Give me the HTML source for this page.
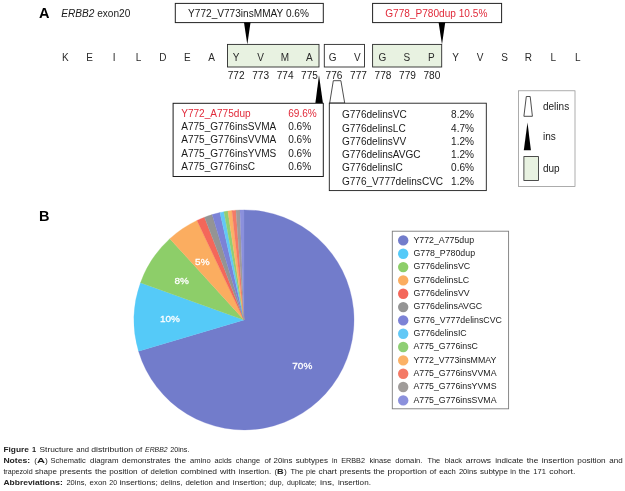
<!DOCTYPE html>
<html><head><meta charset="utf-8"><title>Figure 1</title>
<style>html,body{margin:0;padding:0;background:#fff}svg{display:block}text{font-family:"Liberation Sans",Arial,sans-serif}</style></head><body>
<svg width="625" height="491" viewBox="0 0 625 491" fill="#1a1a1a">
<rect width="625" height="491" fill="#fff"/>
<text x="39" y="17.6" font-size="14.5" font-weight="bold" fill="#000">A</text>
<text x="61.3" y="16.8" font-size="10.1"><tspan font-style="italic">ERBB2</tspan> exon20</text>
<text x="38.9" y="221" font-size="14.5" font-weight="bold" fill="#000">B</text>
<rect x="175.3" y="3.4" width="148" height="19.2" fill="#fff" stroke="#222" stroke-width="1"/>
<text x="248.5" y="17.2" font-size="10.1" text-anchor="middle">Y772_V773insMMAY 0.6%</text>
<rect x="372.6" y="3.4" width="129" height="19.2" fill="#fff" stroke="#222" stroke-width="1"/>
<text x="436.3" y="17.2" font-size="10.1" text-anchor="middle" fill="#e12a3a">G778_P780dup 10.5%</text>
<polygon points="244.0,22.6 250.5,22.6 247.3,44.4" fill="#000"/>
<polygon points="438.6,22.6 445.2,22.6 442,44.4" fill="#000"/>
<rect x="227.5" y="44.4" width="91.5" height="22.6" fill="#e8f2e1" stroke="#2a2a2a" stroke-width="0.9"/>
<rect x="324.3" y="44.4" width="40.2" height="22.6" fill="#fff" stroke="#2a2a2a" stroke-width="0.9"/>
<rect x="372.6" y="44.4" width="69.1" height="22.6" fill="#e8f2e1" stroke="#2a2a2a" stroke-width="0.9"/>
<text x="65.3" y="60.5" font-size="10" text-anchor="middle" fill="#2a2a2a">K</text>
<text x="89.7" y="60.5" font-size="10" text-anchor="middle" fill="#2a2a2a">E</text>
<text x="114.1" y="60.5" font-size="10" text-anchor="middle" fill="#2a2a2a">I</text>
<text x="138.5" y="60.5" font-size="10" text-anchor="middle" fill="#2a2a2a">L</text>
<text x="162.9" y="60.5" font-size="10" text-anchor="middle" fill="#2a2a2a">D</text>
<text x="187.3" y="60.5" font-size="10" text-anchor="middle" fill="#2a2a2a">E</text>
<text x="211.7" y="60.5" font-size="10" text-anchor="middle" fill="#2a2a2a">A</text>
<text x="236.1" y="60.5" font-size="10" text-anchor="middle" fill="#2a2a2a">Y</text>
<text x="260.5" y="60.5" font-size="10" text-anchor="middle" fill="#2a2a2a">V</text>
<text x="284.9" y="60.5" font-size="10" text-anchor="middle" fill="#2a2a2a">M</text>
<text x="309.3" y="60.5" font-size="10" text-anchor="middle" fill="#2a2a2a">A</text>
<text x="332.7" y="60.5" font-size="10" text-anchor="middle" fill="#2a2a2a">G</text>
<text x="357.3" y="60.5" font-size="10" text-anchor="middle" fill="#2a2a2a">V</text>
<text x="382.5" y="60.5" font-size="10" text-anchor="middle" fill="#2a2a2a">G</text>
<text x="406.9" y="60.5" font-size="10" text-anchor="middle" fill="#2a2a2a">S</text>
<text x="431.3" y="60.5" font-size="10" text-anchor="middle" fill="#2a2a2a">P</text>
<text x="455.7" y="60.5" font-size="10" text-anchor="middle" fill="#2a2a2a">Y</text>
<text x="480.1" y="60.5" font-size="10" text-anchor="middle" fill="#2a2a2a">V</text>
<text x="504.5" y="60.5" font-size="10" text-anchor="middle" fill="#2a2a2a">S</text>
<text x="528.3" y="60.5" font-size="10" text-anchor="middle" fill="#2a2a2a">R</text>
<text x="553.3" y="60.5" font-size="10" text-anchor="middle" fill="#2a2a2a">L</text>
<text x="577.7" y="60.5" font-size="10" text-anchor="middle" fill="#2a2a2a">L</text>
<text x="236.1" y="79.2" font-size="10.1" text-anchor="middle">772</text>
<text x="260.6" y="79.2" font-size="10.1" text-anchor="middle">773</text>
<text x="285.1" y="79.2" font-size="10.1" text-anchor="middle">774</text>
<text x="309.5" y="79.2" font-size="10.1" text-anchor="middle">775</text>
<text x="334.0" y="79.2" font-size="10.1" text-anchor="middle">776</text>
<text x="358.5" y="79.2" font-size="10.1" text-anchor="middle">777</text>
<text x="383.0" y="79.2" font-size="10.1" text-anchor="middle">778</text>
<text x="407.5" y="79.2" font-size="10.1" text-anchor="middle">779</text>
<text x="431.9" y="79.2" font-size="10.1" text-anchor="middle">780</text>
<polygon points="315.4,103 322.9,103 319,75.2" fill="#000"/>
<polygon points="329.7,103 333.3,80.7 340.9,80.7 344.7,103" fill="#fff" stroke="#222" stroke-width="0.8"/>
<rect x="173.1" y="103.3" width="150.2" height="73.2" fill="#fff" stroke="#1c1c1c" stroke-width="1"/>
<text x="181.2" y="116.7" font-size="10.07" fill="#e12a3a">Y772_A775dup</text>
<text x="288.2" y="116.7" font-size="10.07" fill="#e12a3a">69.6%</text>
<text x="181.2" y="130.1" font-size="10.07">A775_G776insSVMA</text>
<text x="288.2" y="130.1" font-size="10.07">0.6%</text>
<text x="181.2" y="143.4" font-size="10.07">A775_G776insVVMA</text>
<text x="288.2" y="143.4" font-size="10.07">0.6%</text>
<text x="181.2" y="156.8" font-size="10.07">A775_G776insYVMS</text>
<text x="288.2" y="156.8" font-size="10.07">0.6%</text>
<text x="181.2" y="170.1" font-size="10.07">A775_G776insC</text>
<text x="288.2" y="170.1" font-size="10.07">0.6%</text>
<rect x="329.3" y="103.2" width="157" height="87.4" fill="#fff" stroke="#1c1c1c" stroke-width="0.9"/>
<text x="341.9" y="118.3" font-size="10.07">G776delinsVC</text>
<text x="451.1" y="118.3" font-size="10.07">8.2%</text>
<text x="341.9" y="131.6" font-size="10.07">G776delinsLC</text>
<text x="451.1" y="131.6" font-size="10.07">4.7%</text>
<text x="341.9" y="144.8" font-size="10.07">G776delinsVV</text>
<text x="451.1" y="144.8" font-size="10.07">1.2%</text>
<text x="341.9" y="158.1" font-size="10.07">G776delinsAVGC</text>
<text x="451.1" y="158.1" font-size="10.07">1.2%</text>
<text x="341.9" y="171.3" font-size="10.07">G776delinsIC</text>
<text x="451.1" y="171.3" font-size="10.07">0.6%</text>
<text x="341.9" y="184.6" font-size="10.07">G776_V777delinsCVC</text>
<text x="451.1" y="184.6" font-size="10.07">1.2%</text>
<rect x="518.4" y="90.8" width="56.6" height="95.6" fill="#fff" stroke="#8a8a8a" stroke-width="0.7"/>
<polygon points="523.9,116.3 526.3,96.5 530.2,96.5 532.4,116.3" fill="#fff" stroke="#222" stroke-width="0.8"/>
<polygon points="523.8,150.3 530.9,150.3 527.5,122.6" fill="#000"/>
<rect x="523.9" y="156.6" width="14.5" height="23.8" fill="#e8f2e1" stroke="#222" stroke-width="0.8"/>
<text x="543" y="110.1" font-size="10">delins</text>
<text x="543" y="140.2" font-size="10">ins</text>
<text x="543" y="172.3" font-size="10">dup</text>
<path d="M244,319.9 L244.00,209.90 A110,110 0 1 1 138.53,351.14 Z" fill="#727ccb" stroke="#727ccb" stroke-width="0.3"/>
<path d="M244,319.9 L138.53,351.14 A110,110 0 0 1 140.50,282.64 Z" fill="#55caf8" stroke="#55caf8" stroke-width="0.3"/>
<path d="M244,319.9 L140.50,282.64 A110,110 0 0 1 169.83,238.67 Z" fill="#8dce69" stroke="#8dce69" stroke-width="0.3"/>
<path d="M244,319.9 L169.83,238.67 A110,110 0 0 1 196.99,220.45 Z" fill="#fbad60" stroke="#fbad60" stroke-width="0.3"/>
<path d="M244,319.9 L196.99,220.45 A110,110 0 0 1 204.49,217.24 Z" fill="#f4675a" stroke="#f4675a" stroke-width="0.3"/>
<path d="M244,319.9 L204.49,217.24 A110,110 0 0 1 212.13,214.62 Z" fill="#949494" stroke="#949494" stroke-width="0.3"/>
<path d="M244,319.9 L212.13,214.62 A110,110 0 0 1 219.95,212.56 Z" fill="#7c82d6" stroke="#7c82d6" stroke-width="0.3"/>
<path d="M244,319.9 L219.95,212.56 A110,110 0 0 1 223.90,211.75 Z" fill="#62c8f6" stroke="#62c8f6" stroke-width="0.3"/>
<path d="M244,319.9 L223.90,211.75 A110,110 0 0 1 227.89,211.09 Z" fill="#8fcf74" stroke="#8fcf74" stroke-width="0.3"/>
<path d="M244,319.9 L227.89,211.09 A110,110 0 0 1 231.90,210.57 Z" fill="#fbb166" stroke="#fbb166" stroke-width="0.3"/>
<path d="M244,319.9 L231.90,210.57 A110,110 0 0 1 235.92,210.20 Z" fill="#f47a66" stroke="#f47a66" stroke-width="0.3"/>
<path d="M244,319.9 L235.92,210.20 A110,110 0 0 1 239.96,209.97 Z" fill="#a09c9a" stroke="#a09c9a" stroke-width="0.3"/>
<path d="M244,319.9 L239.96,209.97 A110,110 0 0 1 244.00,209.90 Z" fill="#8b90dc" stroke="#8b90dc" stroke-width="0.3"/>
<text transform="translate(302.3,368.7) scale(1,0.9)" font-size="10" text-anchor="middle" fill="#fff" stroke="#fff" stroke-width="0.3">70%</text>
<text transform="translate(169.9,322.4) scale(1,0.9)" font-size="10" text-anchor="middle" fill="#fff" stroke="#fff" stroke-width="0.3">10%</text>
<text transform="translate(181.6,284.3) scale(1,0.9)" font-size="10" text-anchor="middle" fill="#fff" stroke="#fff" stroke-width="0.3">8%</text>
<text transform="translate(202.3,265.1) scale(1,0.9)" font-size="10" text-anchor="middle" fill="#fff" stroke="#fff" stroke-width="0.3">5%</text>
<rect x="392.3" y="231.2" width="116.3" height="177.6" fill="#fff" stroke="#7c7c7c" stroke-width="0.9"/>
<circle cx="403.2" cy="240.4" r="5.2" fill="#727ccb"/>
<text x="413.4" y="242.7" font-size="8.8">Y772_A775dup</text>
<circle cx="403.2" cy="253.7" r="5.2" fill="#55caf8"/>
<text x="413.4" y="256.0" font-size="8.8">G778_P780dup</text>
<circle cx="403.2" cy="267.1" r="5.2" fill="#8dce69"/>
<text x="413.4" y="269.4" font-size="8.8">G776delinsVC</text>
<circle cx="403.2" cy="280.4" r="5.2" fill="#fbad60"/>
<text x="413.4" y="282.7" font-size="8.8">G776delinsLC</text>
<circle cx="403.2" cy="293.7" r="5.2" fill="#f4675a"/>
<text x="413.4" y="296.0" font-size="8.8">G776delinsVV</text>
<circle cx="403.2" cy="307.1" r="5.2" fill="#949494"/>
<text x="413.4" y="309.4" font-size="8.8">G776delinsAVGC</text>
<circle cx="403.2" cy="320.4" r="5.2" fill="#7c82d6"/>
<text x="413.4" y="322.7" font-size="8.8">G776_V777delinsCVC</text>
<circle cx="403.2" cy="333.7" r="5.2" fill="#62c8f6"/>
<text x="413.4" y="336.0" font-size="8.8">G776delinsIC</text>
<circle cx="403.2" cy="347.0" r="5.2" fill="#8fcf74"/>
<text x="413.4" y="349.3" font-size="8.8">A775_G776insC</text>
<circle cx="403.2" cy="360.4" r="5.2" fill="#fbb166"/>
<text x="413.4" y="362.7" font-size="8.8">Y772_V773insMMAY</text>
<circle cx="403.2" cy="373.7" r="5.2" fill="#f47a66"/>
<text x="413.4" y="376.0" font-size="8.8">A775_G776insVVMA</text>
<circle cx="403.2" cy="387.0" r="5.2" fill="#a09c9a"/>
<text x="413.4" y="389.3" font-size="8.8">A775_G776insYVMS</text>
<circle cx="403.2" cy="400.4" r="5.2" fill="#8b90dc"/>
<text x="413.4" y="402.7" font-size="8.8">A775_G776insSVMA</text>
<g font-size="7.5" fill="#222">
<text x="3.4" y="451.6" textLength="25.5" lengthAdjust="spacingAndGlyphs" font-weight="bold">Figure</text>
<text x="32.0" y="451.6" textLength="4.1" lengthAdjust="spacingAndGlyphs" font-weight="bold">1</text>
<text x="39.5" y="451.6" textLength="33.9" lengthAdjust="spacingAndGlyphs">Structure</text>
<text x="76.2" y="451.6" textLength="12.7" lengthAdjust="spacingAndGlyphs">and</text>
<text x="91.3" y="451.6" textLength="41.8" lengthAdjust="spacingAndGlyphs">distribution</text>
<text x="135.5" y="451.6" textLength="6.8" lengthAdjust="spacingAndGlyphs">of</text>
<text x="145.1" y="451.6" textLength="22.4" lengthAdjust="spacingAndGlyphs" font-style="italic">ERBB2</text>
<text x="170.3" y="451.6" textLength="19.1" lengthAdjust="spacingAndGlyphs">20ins.</text>
<text x="3.4" y="462.8" textLength="26.8" lengthAdjust="spacingAndGlyphs" font-weight="bold">Notes:</text>
<text x="34.2" y="462.8" textLength="2.7" lengthAdjust="spacingAndGlyphs">(</text>
<text x="36.9" y="462.8" textLength="8.0" lengthAdjust="spacingAndGlyphs" font-weight="bold">A</text>
<text x="45.1" y="462.8" textLength="2.8" lengthAdjust="spacingAndGlyphs">)</text>
<text x="50.6" y="462.8" textLength="35.1" lengthAdjust="spacingAndGlyphs">Schematic</text>
<text x="90.0" y="462.8" textLength="28.5" lengthAdjust="spacingAndGlyphs">diagram</text>
<text x="122.1" y="462.8" textLength="48.5" lengthAdjust="spacingAndGlyphs">demonstrates</text>
<text x="174.5" y="462.8" textLength="11.5" lengthAdjust="spacingAndGlyphs">the</text>
<text x="190.0" y="462.8" textLength="20.7" lengthAdjust="spacingAndGlyphs">amino</text>
<text x="214.5" y="462.8" textLength="17.2" lengthAdjust="spacingAndGlyphs">acids</text>
<text x="235.8" y="462.8" textLength="24.2" lengthAdjust="spacingAndGlyphs">change</text>
<text x="264.4" y="462.8" textLength="6.5" lengthAdjust="spacingAndGlyphs">of</text>
<text x="273.6" y="462.8" textLength="18.8" lengthAdjust="spacingAndGlyphs">20ins</text>
<text x="295.8" y="462.8" textLength="32.2" lengthAdjust="spacingAndGlyphs">subtypes</text>
<text x="332.0" y="462.8" textLength="5.6" lengthAdjust="spacingAndGlyphs">in</text>
<text x="341.2" y="462.8" textLength="23.8" lengthAdjust="spacingAndGlyphs">ERBB2</text>
<text x="369.4" y="462.8" textLength="21.7" lengthAdjust="spacingAndGlyphs">kinase</text>
<text x="395.2" y="462.8" textLength="27.3" lengthAdjust="spacingAndGlyphs">domain.</text>
<text x="427.4" y="462.8" textLength="12.7" lengthAdjust="spacingAndGlyphs">The</text>
<text x="444.7" y="462.8" textLength="17.4" lengthAdjust="spacingAndGlyphs">black</text>
<text x="465.7" y="462.8" textLength="25.4" lengthAdjust="spacingAndGlyphs">arrows</text>
<text x="495.2" y="462.8" textLength="28.1" lengthAdjust="spacingAndGlyphs">indicate</text>
<text x="526.7" y="462.8" textLength="11.6" lengthAdjust="spacingAndGlyphs">the</text>
<text x="541.7" y="462.8" textLength="32.2" lengthAdjust="spacingAndGlyphs">insertion</text>
<text x="577.3" y="462.8" textLength="28.4" lengthAdjust="spacingAndGlyphs">position</text>
<text x="609.3" y="462.8" textLength="13.4" lengthAdjust="spacingAndGlyphs">and</text>
<text x="3.4" y="474.1" textLength="29.2" lengthAdjust="spacingAndGlyphs">trapezoid</text>
<text x="35.0" y="474.1" textLength="21.9" lengthAdjust="spacingAndGlyphs">shape</text>
<text x="59.7" y="474.1" textLength="32.2" lengthAdjust="spacingAndGlyphs">presents</text>
<text x="95.0" y="474.1" textLength="11.7" lengthAdjust="spacingAndGlyphs">the</text>
<text x="109.3" y="474.1" textLength="28.3" lengthAdjust="spacingAndGlyphs">position</text>
<text x="140.9" y="474.1" textLength="7.0" lengthAdjust="spacingAndGlyphs">of</text>
<text x="150.6" y="474.1" textLength="27.0" lengthAdjust="spacingAndGlyphs">deletion</text>
<text x="180.4" y="474.1" textLength="36.7" lengthAdjust="spacingAndGlyphs">combined</text>
<text x="219.9" y="474.1" textLength="15.7" lengthAdjust="spacingAndGlyphs">with</text>
<text x="238.7" y="474.1" textLength="32.5" lengthAdjust="spacingAndGlyphs">insertion.</text>
<text x="274.5" y="474.1" textLength="2.6" lengthAdjust="spacingAndGlyphs">(</text>
<text x="277.1" y="474.1" textLength="6.6" lengthAdjust="spacingAndGlyphs" font-weight="bold">B</text>
<text x="284.1" y="474.1" textLength="2.8" lengthAdjust="spacingAndGlyphs">)</text>
<text x="290.5" y="474.1" textLength="12.8" lengthAdjust="spacingAndGlyphs">The</text>
<text x="306.1" y="474.1" textLength="9.7" lengthAdjust="spacingAndGlyphs">pie</text>
<text x="318.5" y="474.1" textLength="18.4" lengthAdjust="spacingAndGlyphs">chart</text>
<text x="339.7" y="474.1" textLength="31.2" lengthAdjust="spacingAndGlyphs">presents</text>
<text x="373.6" y="474.1" textLength="11.2" lengthAdjust="spacingAndGlyphs">the</text>
<text x="387.6" y="474.1" textLength="39.3" lengthAdjust="spacingAndGlyphs">proportion</text>
<text x="429.6" y="474.1" textLength="6.8" lengthAdjust="spacingAndGlyphs">of</text>
<text x="439.2" y="474.1" textLength="16.6" lengthAdjust="spacingAndGlyphs">each</text>
<text x="458.9" y="474.1" textLength="18.2" lengthAdjust="spacingAndGlyphs">20ins</text>
<text x="480.0" y="474.1" textLength="27.9" lengthAdjust="spacingAndGlyphs">subtype</text>
<text x="510.3" y="474.1" textLength="5.6" lengthAdjust="spacingAndGlyphs">in</text>
<text x="518.7" y="474.1" textLength="11.2" lengthAdjust="spacingAndGlyphs">the</text>
<text x="533.3" y="474.1" textLength="12.6" lengthAdjust="spacingAndGlyphs">171</text>
<text x="549.3" y="474.1" textLength="26.0" lengthAdjust="spacingAndGlyphs">cohort.</text>
<text x="3.4" y="485.4" textLength="59.4" lengthAdjust="spacingAndGlyphs" font-weight="bold">Abbreviations:</text>
<text x="66.4" y="485.4" textLength="20.1" lengthAdjust="spacingAndGlyphs">20ins,</text>
<text x="89.6" y="485.4" textLength="17.1" lengthAdjust="spacingAndGlyphs">exon</text>
<text x="109.3" y="485.4" textLength="7.8" lengthAdjust="spacingAndGlyphs">20</text>
<text x="119.4" y="485.4" textLength="38.4" lengthAdjust="spacingAndGlyphs">insertions;</text>
<text x="160.5" y="485.4" textLength="21.8" lengthAdjust="spacingAndGlyphs">delins,</text>
<text x="185.4" y="485.4" textLength="27.5" lengthAdjust="spacingAndGlyphs">deletion</text>
<text x="216.0" y="485.4" textLength="13.7" lengthAdjust="spacingAndGlyphs">and</text>
<text x="232.8" y="485.4" textLength="33.4" lengthAdjust="spacingAndGlyphs">insertion;</text>
<text x="269.4" y="485.4" textLength="14.4" lengthAdjust="spacingAndGlyphs">dup,</text>
<text x="287.1" y="485.4" textLength="29.7" lengthAdjust="spacingAndGlyphs">duplicate;</text>
<text x="319.9" y="485.4" textLength="14.5" lengthAdjust="spacingAndGlyphs">ins,</text>
<text x="338.0" y="485.4" textLength="32.9" lengthAdjust="spacingAndGlyphs">insertion.</text>
</g>
</svg></body></html>
